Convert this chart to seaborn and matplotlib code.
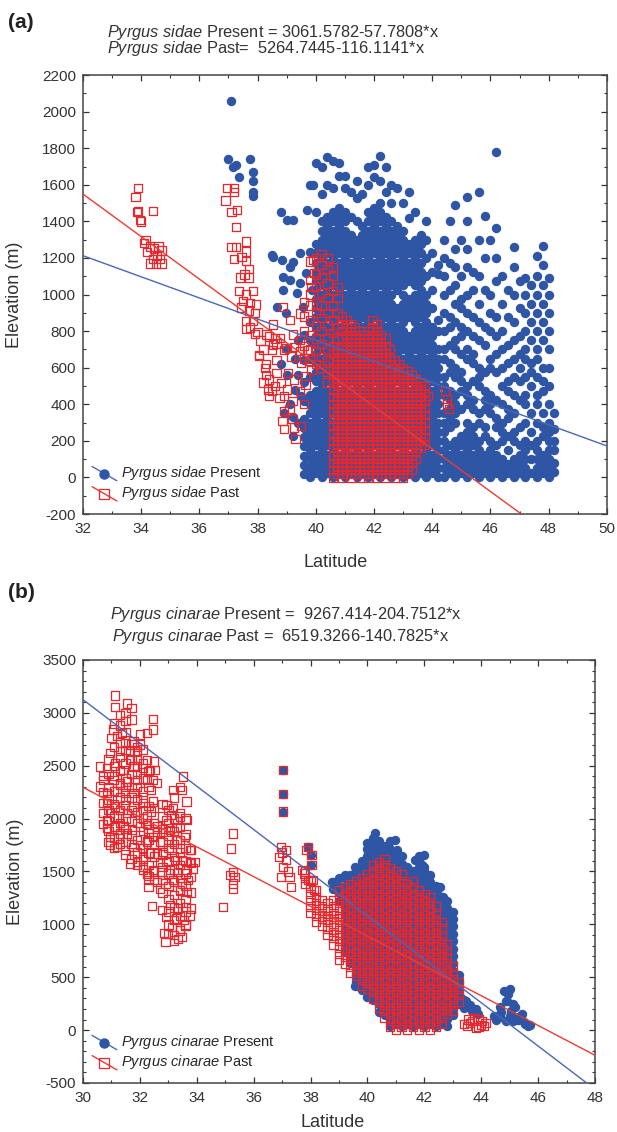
import numpy as np
import pandas as pd
import matplotlib
matplotlib.use("Agg")
import matplotlib.pyplot as plt
import seaborn as sns
from matplotlib.lines import Line2D
from matplotlib.legend_handler import HandlerBase
from matplotlib.ticker import MultipleLocator

BLUE = '#2f55a5'
RED = '#e8262b'
BLUE_LINE = '#4a68b5'
RED_LINE = '#ee3a33'

# ---------------- panel (a): Pyrgus sidae ----------------
sidae_fit_present = (3061.5782, -57.7808)
sidae_fit_past = (5264.7445, -116.1141)

sidae_present_pts = [
    (37.1, 2060), (37.0, 1740), (37.15, 1700), (37.25, 1710), (37.35, 1640),
    (37.75, 1740), (37.85, 1670), (37.85, 1620), (37.85, 1560), (37.85, 1540),
    (38.5, 1216), (38.8, 1451), (39.0, 1407), (39.2, 1407), (39.7, 1462), (39.9, 1599),
    (38.54, 1207), (38.83, 1189), (39.23, 1179), (39.11, 1152), (39.45, 1225),
    (39.8, 1234), (38.88, 1097), (39.11, 1079), (39.45, 1061), (39.68, 1116),
    (38.88, 1025), (39.34, 1006), (39.86, 1025), (38.65, 933), (38.99, 897),
    (39.57, 933), (39.2, 328), (39.5, 445), (39.2, 229), (39.0, 560), (39.3, 650),
    (39.4, 560), (39.1, 400), (39.4, 300), (38.8, 620), (39.0, 700), (39.3, 480),
    (38.9, 350), (39.4, 750), (39.75, 193),
]
sidae_present_cols = [
    "39.6: 20 70 120 170 220 270 320 420 520 640 780",
    "39.8: 0 50 100 150 200 250 300 350 400 450 550 650 750 850 1600",
    "40.0: 25 75 125 175 225 275 325 375 425 475 525 575 625 675 725 775 825 875 925 975 1025 1075 1125 1175 1225 1275 1450 1720",
    "40.2: 0 50 100 150 200 250 300 350 400 450 500 550 600 650 700 750 800 850 900 950 1000 1050 1100 1150 1200 1250 1300 1350 1400 1550 1700",
    "40.4: 25 75 125 175 225 275 325 375 425 475 525 575 625 675 725 775 825 875 925 975 1025 1075 1125 1175 1225 1275 1325 1375 1425 1600 1750",
    "40.6: 0 50 100 150 200 250 300 350 400 450 500 550 600 650 700 750 800 850 900 950 1000 1050 1100 1150 1200 1250 1300 1350 1400 1450 1580 1730",
    "40.8: 25 75 125 175 225 275 325 375 425 475 525 575 625 675 725 775 825 875 925 975 1025 1075 1125 1175 1225 1275 1325 1375 1425 1475 1650 1720",
    "41.0: 0 50 100 150 200 250 300 350 400 450 500 550 600 650 700 750 800 850 900 950 1000 1050 1100 1150 1200 1250 1300 1350 1400 1450 1580 1650",
    "41.2: 25 75 125 175 225 275 325 375 425 475 525 575 625 675 725 775 825 875 925 975 1025 1075 1125 1175 1225 1275 1325 1425 1560",
    "41.4: 0 50 100 150 200 250 300 350 400 450 500 550 600 650 700 750 800 850 900 950 1000 1050 1100 1150 1200 1250 1300 1400 1530 1620",
    "41.6: 25 75 125 175 225 275 325 375 425 475 525 575 625 675 725 775 825 875 925 975 1025 1075 1125 1175 1225 1275 1325 1375 1550",
    "41.8: 0 50 100 150 200 250 300 350 400 450 500 550 600 650 700 750 800 850 900 950 1000 1050 1100 1150 1200 1250 1300 1350 1400 1450 1600 1700",
    "42.0: 25 75 125 175 225 275 325 375 425 475 525 575 625 675 725 775 825 875 925 975 1025 1075 1125 1175 1225 1275 1325 1375 1425 1475 1640 1710",
    "42.2: 0 50 100 150 200 250 300 350 400 450 500 550 600 650 700 750 800 850 900 950 1000 1050 1100 1150 1200 1250 1300 1350 1400 1450 1500 1620 1760",
    "42.4: 25 75 125 175 225 275 325 375 425 475 525 575 625 675 725 775 825 875 925 975 1025 1075 1125 1175 1225 1275 1325 1375 1425 1560 1700",
    "42.6: 0 50 100 150 200 250 300 350 400 450 500 550 600 650 700 750 800 850 900 950 1000 1050 1100 1150 1200 1250 1300 1350 1400 1500 1600",
    "42.8: 25 75 125 175 225 275 325 375 425 475 525 575 625 675 725 775 825 875 925 1025 1075 1125 1175 1225 1275 1325 1375 1580",
    "43.0: 0 50 100 150 200 250 300 350 400 450 500 550 600 650 700 750 800 850 900 950 1000 1050 1100 1150 1200 1250 1300 1350 1500",
    "43.2: 25 75 125 175 225 275 325 375 425 475 525 575 625 675 725 775 875 925 975 1075 1125 1175 1225 1275 1420 1560",
    "43.4: 0 50 100 150 200 250 300 350 400 450 500 550 600 650 700 750 800 850 900 950 1000 1050 1100 1150 1200 1250 1300 1450",
    "43.6: 25 75 125 175 225 275 325 375 425 475 525 575 625 675 725 775 825 875 925 975 1025 1075 1125 1175 1225 1275 1325",
    "43.8: 0 50 100 150 200 250 300 350 400 450 500 550 600 650 700 750 800 850 900 950 1000 1100 1200 1300 1400",
    "44.0: 25 75 125 175 225 275 325 375 425 475 525 575 625 675 725 775 825 925 1025 1125 1225",
    "44.2: 0 50 100 150 200 250 300 350 400 450 500 550 600 650 700 800 860 1110 1160",
    "44.4: 0 50 100 150 200 250 300 350 450 500 550 650 700 800 900 1000 1100 1200 1300",
    "44.6: 25 75 125 175 275 325 375 425 475 575 625 725 825 875 1025 1175 1400",
    "44.8: 0 50 100 150 200 300 350 400 450 550 600 700 750 850 950 1050 1150 1250 1490",
    "45.0: 25 75 125 175 225 375 475 525 575 675 775 825 925 975 1100 1300",
    "45.2: 0 50 100 150 200 250 300 400 450 500 650 700 800 900 1000 1150 1250 1400 1533",
    "45.4: 25 75 125 175 225 275 375 425 525 625 675 775 875 1025 1125",
    "45.6: 0 50 100 150 200 300 350 500 550 600 750 850 950 1100 1300 1560",
    "45.8: 25 75 125 225 275 375 425 475 575 725 825 1025 1200 1430",
    "46.0: 0 50 100 150 200 350 400 450 600 650 800 900 1000 1300",
    "46.2: 25 75 125 175 275 325 425 575 675 775 875 1075 1200 1366 1777",
    "46.4: 0 50 100 200 250 300 400 500 600 700 800 950 1100",
    "46.6: 25 75 150 225 325 375 475 525 625 725 875 1025",
    "46.8: 0 50 100 200 250 350 450 550 650 750 850 1000 1150 1260",
    "47.0: 25 75 125 175 275 425 525 600 675 775 925 1075",
    "47.2: 0 50 100 150 200 300 400 450 550 650 700 800 900 1000 1090",
    "47.4: 25 100 175 250 350 500 575 625 750 850 950 1050",
    "47.6: 0 50 100 150 200 300 400 450 550 650 700 800 900 1000 1100 1210",
    "47.8: 25 75 125 225 275 350 475 525 600 750 850 950 1050 1163 1264",
    "48.0: 0 50 100 150 200 250 300 400 500 600 700 800 900 1000 1090",
    "48.2: 30 80 150 200 265 355",
]

sidae_past_pts = [
    (33.9, 1582), (33.8, 1533), (33.85, 1451), (33.95, 1409), (34.4, 1457), (33.9, 1457),
    (34.0, 1400), (34.1, 1280), (34.3, 1262), (34.45, 1251), (34.6, 1262), (34.7, 1240),
    (34.2, 1233), (34.4, 1196), (34.5, 1170), (34.7, 1170), (34.3, 1170), (34.65, 1196),
    (34.55, 1210), (34.15, 1300),
    (36.95, 1582), (37.2, 1582), (36.9, 1515), (37.2, 1560), (37.1, 1451), (37.3, 1462),
    (37.25, 1371), (37.1, 1260), (37.25, 1260), (37.6, 1290), (37.6, 1235), (37.2, 1196),
    (37.45, 1207), (37.6, 1185), (37.7, 1140), (37.55, 1110), (37.4, 1093), (37.7, 1093),
    (37.35, 1020), (37.6, 1000), (37.85, 1020), (37.5, 966), (37.75, 955), (37.95, 945),
    (37.45, 930), (37.7, 912), (37.9, 900), (37.6, 857), (37.85, 857), (37.75, 820),
    (37.9, 785), (37.6, 812), (38.1, 748), (38.05, 664),
    (38.05, 670), (38.25, 598), (38.4, 535), (38.5, 472), (38.4, 445), (38.65, 571),
    (38.8, 517), (38.9, 445), (38.9, 364), (38.85, 310), (38.9, 265), (39.25, 274),
    (39.5, 283), (39.3, 211), (39.2, 319), (39.6, 400), (39.65, 508), (39.5, 625),
    (39.15, 661), (38.65, 733), (38.4, 770), (38.0, 796), (38.65, 643), (38.5, 697),
    (38.9, 697), (39.25, 715), (39.45, 751), (39.7, 697), (39.85, 589), (39.65, 553),
    (39.45, 472), (39.2, 418), (39.0, 481), (39.25, 535), (39.05, 571), (38.6, 499),
    (38.75, 436), (39.1, 373), (38.3, 560), (38.2, 520), (38.35, 480), (38.3, 620),
    (38.6, 760), (38.2, 700),
    (38.31, 782), (38.54, 727), (38.77, 764), (38.99, 709), (39.22, 782), (39.45, 691),
    (38.88, 933), (39.11, 860), (39.45, 897), (39.79, 860), (40.02, 951), (38.54, 836),
    (39.9, 1189), (39.96, 1116), (39.85, 1043),
    (44.45, 472), (44.5, 400), (44.58, 373), (43.85, 445), (44.5, 430),
]
sidae_past_cols = [
    "39.6: 650 720 800 880 960",
    "39.8: 640 700 780 940 1000 1080 1180",
    "40.0: 620 690 760 830 900 1040 1110 1200",
    "40.2: 600 660 730 800 870 940 1010 1090 1160 1220",
    "40.4: 520 580 640 700 760 830 900 980 1060 1140 1200",
    "40.6: 0 40 80 120 160 200 240 280 320 360 400 440 480 520 560 600 640 680 720 790 860 940 1020 1100 1150",
    "40.75: 20 60 100 140 180 220 260 300 340 380 420 460 500 540 580 620 660 700 760 820 900 980 1040",
    "40.9: 0 40 80 120 160 200 240 280 320 360 400 440 480 520 560 600 640 680 720 760 800 840 880",
    "41.05: 20 60 100 140 180 220 260 300 340 380 420 460 500 540 580 620 660 700 740 780 820 860",
    "41.2: 0 40 80 120 160 200 240 280 320 360 400 440 480 520 560 600 640 680 720 760 800 840",
    "41.35: 20 60 100 140 180 220 260 300 340 380 420 460 500 540 580 620 660 700 740 780 820",
    "41.5: 0 40 80 120 160 200 240 280 320 360 400 440 480 520 560 600 640 680 720 760 800",
    "41.65: 20 60 100 140 180 220 260 300 340 380 420 460 500 540 580 620 660 700 740 780",
    "41.8: 0 40 80 120 160 200 240 280 320 360 400 440 480 520 560 600 640 680 720 760 800",
    "41.95: 20 60 100 140 180 220 260 300 340 380 420 460 500 540 580 620 660 700 740 780 820 860",
    "42.1: 0 40 80 120 160 200 240 280 320 360 400 440 480 520 560 600 640 680 720 760 800 840",
    "42.25: 20 60 100 140 180 220 260 300 340 380 420 460 500 540 580 620 660 700 740 780",
    "42.4: 0 40 80 120 160 200 240 280 320 360 400 440 480 520 560 600 640 680 720 760",
    "42.55: 20 60 100 140 180 220 260 300 340 380 420 460 500 540 580 620 660 700",
    "42.7: 0 40 80 120 160 200 240 280 320 360 400 440 480 520 560 600 640",
    "42.85: 20 60 100 140 180 220 260 300 340 380 420 460 500 540 580 620",
    "43.0: 0 40 80 120 160 200 240 280 320 360 400 440 480 520 560 600",
    "43.15: 20 60 100 140 180 220 260 300 340 380 420 460 500 540 580",
    "43.3: 40 80 120 160 200 240 280 320 360 400 440 480 520 560",
    "43.45: 100 140 180 220 260 300 340 380 420 460 500 540",
    "43.6: 160 200 240 280 320 360 400 440 480 520",
    "43.75: 180 220 260 300 340 380 420 460 500",
]

# ---------------- panel (b): Pyrgus cinarae ----------------
cinarae_fit_present = (9267.414, -204.7512)
cinarae_fit_past = (6519.3266, -140.7825)

cinarae_present_pts = [
    (37.02, 2462), (37.02, 2231), (37.02, 2066), (37.9, 1734), (38.03, 1660), (38.03, 1565),
    (40.27, 1861), (39.97, 1766), (40.09, 1702), (40.74, 1718), (40.97, 1797), (41.03, 1702),
    (41.03, 1607), (41.97, 1655), (41.91, 1560), (42.03, 1449), (41.79, 1418), (39.8, 1576),
    (39.56, 1544), (39.21, 1465), (38.74, 1402), (42.67, 1259), (42.44, 1291), (41.67, 1607),
    (41.38, 1418), (40.67, 1639), (40.44, 1497), (42.08, 1386), (42.26, 1354), (42.55, 1354),
    (39.65, 437), (39.72, 405), (40.2, 357), (39.55, 420), (39.8, 380),
    (43.47, 278), (43.68, 183), (43.89, 152), (44.58, 136), (44.65, 215), (44.86, 278),
    (44.8, 373), (45.0, 389), (44.9, 278), (45.04, 183), (45.28, 120), (45.49, 73),
    (45.63, 41), (45.11, 88), (44.86, 88), (44.65, 120), (44.44, 136), (45.42, 152),
    (45.2, 215), (44.95, 340), (45.1, 250), (45.3, 100), (45.55, 60), (45.7, 50),
    (44.7, 170), (45.0, 130), (44.5, 100), (43.6, 240), (43.3, 300), (43.8, 200),
]
cinarae_present_cols = [
    "38.8: 1330 1400",
    "39.0: 1225 1295 1365 1435",
    "39.2: 735 805 875 945 1015 1085 1155 1225 1295 1365 1435",
    "39.4: 630 700 770 840 910 980 1050 1120 1190 1260 1330 1400 1470",
    "39.6: 455 525 595 665 735 805 875 945 1015 1085 1155 1225 1295 1365 1435 1505",
    "39.8: 420 490 560 630 700 770 840 910 980 1050 1120 1190 1260 1330 1400 1470 1540 1600",
    "40.0: 315 385 455 525 595 665 735 805 875 945 1015 1085 1155 1225 1295 1365 1435 1505 1575 1645 1715",
    "40.2: 280 350 420 490 560 630 700 770 840 910 980 1050 1120 1190 1260 1330 1400 1470 1540 1610 1680 1750 1820",
    "40.4: 175 245 315 385 455 525 595 665 735 805 875 945 1015 1085 1155 1225 1295 1365 1435 1505 1575 1645 1715 1785",
    "40.6: 140 210 280 350 420 490 560 630 700 770 840 910 980 1050 1120 1190 1260 1330 1400 1470 1540 1610 1680 1740",
    "40.8: 35 105 175 245 315 385 455 525 595 665 735 805 875 945 1015 1085 1155 1225 1295 1365 1435 1505 1575 1645 1715 1790",
    "41.0: 70 140 210 280 350 420 490 560 630 700 770 840 910 980 1050 1120 1190 1260 1330 1400 1470 1540 1610 1680",
    "41.2: 35 105 175 245 315 385 455 525 595 665 735 805 875 945 1015 1085 1155 1225 1295 1365 1435 1505 1575 1645",
    "41.4: 70 140 210 280 350 420 490 560 630 700 770 840 910 980 1050 1120 1190 1260 1330 1400 1470 1540",
    "41.6: 35 105 175 245 315 385 455 525 595 665 735 805 875 945 1015 1085 1155 1225 1295 1365 1435 1505",
    "41.8: 70 140 210 280 350 420 490 560 630 700 770 840 910 980 1050 1120 1190 1260 1330 1400 1470 1540 1610 1650",
    "42.0: 35 105 175 245 315 385 455 525 595 665 735 805 875 945 1015 1085 1155 1225 1295 1365 1435 1505 1540",
    "42.2: 70 140 210 280 350 420 490 560 630 700 770 840 910 980 1050 1120 1190 1260 1330 1400 1470",
    "42.4: 35 105 175 245 315 385 455 525 595 665 735 805 875 945 1015 1085 1155 1225 1295 1365",
    "42.6: 70 140 210 280 350 420 490 560 630 700 770 840 910 980 1050 1120 1190 1260",
    "42.8: 35 105 175 245 315 385 455 525 595 665 735 805 875 945 1015 1085 1155 1225",
    "43.0: 140 210 280 350 420 490 560 630 700 770 840 910 980 1050 1120",
    "43.2: 245 315 385 455 525",
    "43.4: 210 280",
]

cinarae_past_pts = [
    (31.13, 3165), (31.13, 3057), (31.54, 3089), (31.7, 3047), (31.5, 3000), (31.7, 2937),
    (31.5, 2920), (32.47, 2943), (32.45, 2842), (31.07, 2842), (31.0, 2763), (31.2, 2778),
    (31.37, 2810), (31.5, 2715), (31.77, 2730), (32.0, 2794), (32.0, 2700), (32.24, 2810),
    (31.3, 2636), (30.96, 2620), (31.66, 2636), (31.9, 2636), (32.1, 2652), (31.66, 2557),
    (31.9, 2557), (32.24, 2557), (32.5, 2541), (30.6, 2494), (30.84, 2478), (31.13, 2525),
    (31.42, 2462), (31.77, 2494), (32.1, 2478), (32.36, 2462), (32.53, 2462), (30.72, 2367),
    (31.07, 2367), (31.3, 2335), (31.54, 2351), (31.9, 2367), (32.24, 2367), (32.47, 2367),
    (30.6, 2304), (30.84, 2240), (31.2, 2256), (31.48, 2240), (31.77, 2240), (32.1, 2256),
    (32.4, 2272), (32.6, 2335), (30.84, 2146), (31.13, 2114), (31.48, 2130), (31.77, 2114),
    (32.1, 2146), (32.47, 2161), (30.96, 2051), (31.25, 2019), (31.54, 2051), (30.84, 1987),
    (30.84, 1908), (31.13, 1924), (31.42, 1924), (31.72, 1892), (32.0, 1924), (32.24, 1955),
    (30.96, 1829), (31.25, 1813), (31.54, 1860), (30.96, 1750), (31.2, 1734), (31.48, 1702),
    (31.77, 1734), (32.0, 1750), (32.24, 1782), (31.66, 1576), (31.9, 1592), (32.1, 1639),
    (32.36, 1671), (32.47, 1829), (32.3, 1860), (32.6, 1924), (32.24, 2019), (32.4, 2066),
    (32.94, 2130), (33.17, 2098), (33.1, 2035), (33.4, 2019), (32.94, 1987), (33.52, 2399),
    (33.47, 2272), (33.17, 2272), (33.64, 2161), (32.6, 1876), (32.82, 1876), (33.06, 1892),
    (33.29, 1908), (33.64, 1987), (32.7, 1782), (33.0, 1797), (33.29, 1797), (33.58, 1829),
    (33.76, 1702), (33.41, 1718), (33.11, 1702), (32.82, 1687), (32.6, 1671), (32.7, 1592),
    (32.94, 1592), (33.23, 1608), (33.47, 1608), (33.76, 1592), (33.93, 1592), (32.47, 1513),
    (32.76, 1497), (33.06, 1513), (33.35, 1497), (33.64, 1513), (33.87, 1529), (32.24, 1481),
    (32.1, 1544), (32.3, 1418), (32.6, 1402), (32.9, 1386), (33.17, 1418), (33.47, 1386),
    (33.7, 1418), (32.7, 1338), (33.41, 1323), (33.64, 1307), (32.3, 1354),
    (32.43, 1171), (32.78, 1133), (33.06, 1180), (33.33, 1149), (33.6, 1165), (33.75, 1085),
    (32.92, 1070), (33.26, 1054), (33.54, 1038), (33.12, 975), (33.4, 943), (32.99, 911),
    (33.2, 848), (32.85, 918), (32.9, 832), (33.47, 880), (33.33, 864), (33.6, 990),
    (34.93, 1165), (35.27, 1860), (35.21, 1718), (35.27, 1497), (35.33, 1449), (35.27, 1386),
    (35.27, 1338), (35.16, 1465),
    (37.02, 2462), (37.02, 2231), (37.02, 2066), (37.9, 1734), (38.03, 1655), (38.03, 1560),
    (36.97, 1734), (37.14, 1702), (36.9, 1639), (37.14, 1608), (37.02, 1544), (36.97, 1449),
    (37.26, 1449), (37.3, 1354), (37.84, 1702), (37.78, 1481), (37.9, 1418), (38.07, 1418),
    (38.13, 1323), (37.7, 1513), (37.0, 1680), (37.2, 1500),
    (43.4, 57), (43.68, 88), (43.9, 104), (44.1, 41), (43.82, 25), (44.03, 88), (43.5, 40),
    (43.6, 70), (43.75, 110), (44.0, 50), (44.15, 70), (43.9, 30), (43.55, 100),
]
cinarae_past_cols = [
    "30.7: 1950 2050 2150 2250 2400",
    "30.9: 1780 1880 1980 2080 2180 2300 2420 2560",
    "31.1: 1720 1820 1920 2020 2140 2260 2400 2500 2680 2900",
    "31.3: 1760 1860 1960 2080 2200 2320 2450 2580 2720 2880 2980",
    "31.5: 1660 1780 1900 2000 2180 2300 2380 2520 2650 2820",
    "31.7: 1620 1760 1840 1980 2080 2200 2300 2420 2560 2700",
    "31.9: 1560 1680 1800 1960 2060 2180 2300 2420 2500 2680",
    "32.1: 1520 1620 1720 1880 2000 2080 2200 2380 2520",
    "32.3: 1460 1560 1680 1800 1900 2120 2300 2450",
    "32.5: 1420 1500 1640 1760 1960 2100",
    "32.8: 1300 1420 1540 1660 1780 1900 2020 2140",
    "33.0: 1000 1120 1240 1360 1480 1600 1720 1840 1960 2080",
    "33.2: 900 1040 1160 1280 1400 1520 1640 1760 1880 2000 2200",
    "33.4: 960 1080 1200 1320 1440 1560 1680 1800 1920 2050 2300",
    "33.6: 1000 1120 1240 1360 1480 1600 1720 1850 2000",
    "33.8: 1150 1300 1450 1580 1700",
    "37.8: 1380 1440 1500",
    "38.0: 1110 1170 1230 1290 1350 1410",
    "38.2: 1020 1080 1140 1200 1260 1320",
    "38.4: 990 1050 1110 1170 1230",
    "38.6: 900 960 1020 1080 1140 1200",
    "38.8: 810 870 930 990 1050 1110 1170 1230",
    "39.0: 660 720 780 840 900 960 1020 1080 1140 1200 1260 1320",
    "39.2: 630 690 750 810 870 930 990 1050 1110 1170 1230 1290 1350",
    "39.4: 540 600 660 720 780 840 900 960 1020 1080 1140 1200 1260 1320 1380",
    "39.6: 510 570 630 690 750 810 870 930 990 1050 1110 1170 1230 1290 1350 1410",
    "39.8: 420 480 540 600 660 720 780 840 900 960 1020 1080 1140 1200 1260 1320 1380 1440",
    "40.0: 390 450 510 570 630 690 750 810 870 930 990 1050 1110 1170 1230 1290 1350 1410 1470",
    "40.2: 300 360 420 480 540 600 660 720 780 840 900 960 1020 1080 1140 1200 1260 1320 1380 1440 1500 1560",
    "40.4: 210 270 330 390 450 510 570 630 690 750 810 870 930 990 1050 1110 1170 1230 1290 1350 1410 1470 1530 1590",
    "40.6: 120 180 240 300 360 420 480 540 600 660 720 780 840 900 960 1020 1080 1140 1200 1260 1320 1380 1440 1500 1560 1620",
    "40.8: 30 90 150 210 270 330 390 450 510 570 630 690 750 810 870 930 990 1050 1110 1170 1230 1290 1350 1410 1470 1530",
    "41.0: 0 60 120 180 240 300 360 420 480 540 600 660 720 780 840 900 960 1020 1080 1140 1200 1260 1320 1380 1440 1500",
    "41.2: 30 90 150 210 270 330 390 450 510 570 630 690 750 810 870 930 990 1050 1110 1170 1230 1290 1350 1410 1470",
    "41.4: 0 60 120 180 240 300 360 420 480 540 600 660 720 780 840 900 960 1020 1080 1140 1200 1260 1320 1380",
    "41.6: 30 90 150 210 270 330 390 450 510 570 630 690 750 810 870 930 990 1050 1110 1170 1230 1290 1350 1410",
    "41.8: 0 60 120 180 240 300 360 420 480 540 600 660 720 780 840 900 960 1020 1080 1140 1200 1260 1320",
    "42.0: 30 90 150 210 270 330 390 450 510 570 630 690 750 810 870 930 990 1050 1110 1170 1230 1290",
    "42.2: 0 60 120 180 240 300 360 420 480 540 600 660 720 780 840 900 960 1020 1080 1140 1200 1260",
    "42.4: 30 90 150 210 270 330 390 450 510 570 630 690 750 810 870 930 990 1050 1110 1170",
    "42.6: 60 120 180 240 300 360 420 480 540 600 660 720 780 840 900 960 1020",
    "42.8: 150 210 270 330 390 450 510 570 630 690 750 810",
    "43.0: 180 240 300 360 420 480 540 600",
    "43.2: 270 330 390 450",
]


def to_frame(pts, rows):
    lat = [p[0] for p in pts]
    elev = [p[1] for p in pts]
    for row in rows:
        head, vals = row.split(":")
        for v in vals.split():
            lat.append(float(head))
            elev.append(float(v))
    return pd.DataFrame({"lat": lat, "elev": elev})


class SlopedHandler(HandlerBase):
    # legend key drawn as a short sloped line with the marker in the middle
    def create_artists(self, legend, orig, xdescent, ydescent, width, height, fontsize, trans):
        x0, x1 = -xdescent, -xdescent + width
        y0, y1 = -ydescent + height * 1.05, -ydescent - height * 0.35
        ln = Line2D([x0, x1], [y0, y1], color=orig.get_color(), lw=orig.get_linewidth(), transform=trans)
        mk = Line2D([(x0 + x1) / 2], [(y0 + y1) / 2], ls='none', marker=orig.get_marker(),
                    ms=orig.get_markersize(), mfc=orig.get_markerfacecolor(),
                    mec=orig.get_markeredgecolor(), mew=orig.get_markeredgewidth(), transform=trans)
        return [ln, mk]


sns.set_style("ticks")
plt.rcParams['font.family'] = ['Liberation Sans', 'DejaVu Sans']
plt.rcParams['mathtext.fontset'] = 'custom'
plt.rcParams['mathtext.rm'] = 'Liberation Sans'
plt.rcParams['mathtext.it'] = 'Liberation Sans:italic'
plt.rcParams['axes.unicode_minus'] = False

fig = plt.figure(figsize=(6.17, 11.32), dpi=100)
ax1 = fig.add_axes([0.1345, 0.5459, 0.849, 0.3878])
ax2 = fig.add_axes([0.1345, 0.0433, 0.830, 0.3737])


def draw(ax, present, past, fit_present, fit_past, xlim, ylim, ymajor, species, label_x, label_y):
    sns.scatterplot(data=present, x="lat", y="elev", ax=ax, color=BLUE, s=46,
                    linewidth=0, marker='o', zorder=2)
    sns.scatterplot(data=past, x="lat", y="elev", ax=ax, marker='s', s=36,
                    facecolor='none', edgecolor=RED, linewidth=0.9, zorder=3)
    xs = np.array(xlim, dtype=float)
    sns.lineplot(x=xs, y=fit_present[0] + fit_present[1] * xs, ax=ax, color=BLUE_LINE, lw=1.0, zorder=5)
    sns.lineplot(x=xs, y=fit_past[0] + fit_past[1] * xs, ax=ax, color=RED_LINE, lw=1.0, zorder=5)
    ax.set_xlim(*xlim)
    ax.set_ylim(*ylim)
    ax.xaxis.set_major_locator(MultipleLocator(2))
    ax.xaxis.set_minor_locator(MultipleLocator(1))
    ax.yaxis.set_major_locator(MultipleLocator(ymajor))
    ax.yaxis.set_minor_locator(MultipleLocator(100))
    ax.tick_params(which='both', direction='in', top=True, right=True, colors='#333333',
                   labelcolor='#333333', labelsize=11)
    ax.tick_params(which='major', length=4, width=0.9)
    ax.tick_params(which='minor', length=2.5, width=0.8)
    ax.tick_params(axis='x', pad=6)
    ax.tick_params(axis='y', pad=5)
    for sp in ax.spines.values():
        sp.set_color('#444444')
        sp.set_linewidth(1.1)
    ax.set_xlabel("Latitude", fontsize=13, color='#333333')
    ax.set_ylabel("Elevation (m)", fontsize=13, color='#333333')
    ax.xaxis.set_label_coords(label_x, label_y)
    ax.yaxis.set_label_coords(-0.115, 0.5)
    h1 = Line2D([], [], color=BLUE_LINE, lw=1.0, marker='o', ms=6.5, mfc=BLUE, mec=BLUE)
    h2 = Line2D([], [], color=RED_LINE, lw=1.0, marker='s', ms=6.5, mfc='none', mec=RED, mew=0.9)
    ax.legend(handles=[h1, h2],
              labels=[r"$\it{" + species + "}$ Present", r"$\it{" + species + "}$ Past"],
              handler_map={Line2D: SlopedHandler()}, loc='lower left',
              bbox_to_anchor=(-0.005, 0.0), frameon=False, fontsize=10.5,
              handlelength=1.7, handletextpad=0.3, labelspacing=0.15, borderaxespad=0.4)


draw(ax1, to_frame(sidae_present_pts, sidae_present_cols), to_frame(sidae_past_pts, sidae_past_cols),
     sidae_fit_present, sidae_fit_past, (32, 50), (-200, 2200), 200, r"Pyrgus\ sidae", 0.483, -0.09)
draw(ax2, to_frame(cinarae_present_pts, cinarae_present_cols), to_frame(cinarae_past_pts, cinarae_past_cols),
     cinarae_fit_present, cinarae_fit_past, (30, 48), (-500, 3500), 500, r"Pyrgus\ cinarae", 0.487, -0.074)

H = 1132.0
fig.text(8 / 617, 1 - 22 / H, "(a)", fontsize=15, fontweight='bold', va='center', color='#222222')
fig.text(107 / 617, 1 - 32 / H, r"$\it{Pyrgus\ sidae}$ Present = 3061.5782-57.7808*x",
         fontsize=11.8, va='center', color='#333333')
fig.text(107 / 617, 1 - 49 / H, r"$\it{Pyrgus\ sidae}$ Past=  5264.7445-116.1141*x",
         fontsize=11.8, va='center', color='#333333')
fig.text(8 / 617, 1 - 593 / H, "(b)", fontsize=15, fontweight='bold', va='center', color='#222222')
fig.text(110 / 617, 1 - 614 / H, r"$\it{Pyrgus\ cinarae}$ Present =  9267.414-204.7512*x",
         fontsize=11.8, va='center', color='#333333')
fig.text(112 / 617, 1 - 637 / H, r"$\it{Pyrgus\ cinarae}$ Past =  6519.3266-140.7825*x",
         fontsize=11.8, va='center', color='#333333')

fig.savefig("out.png", dpi=100)
